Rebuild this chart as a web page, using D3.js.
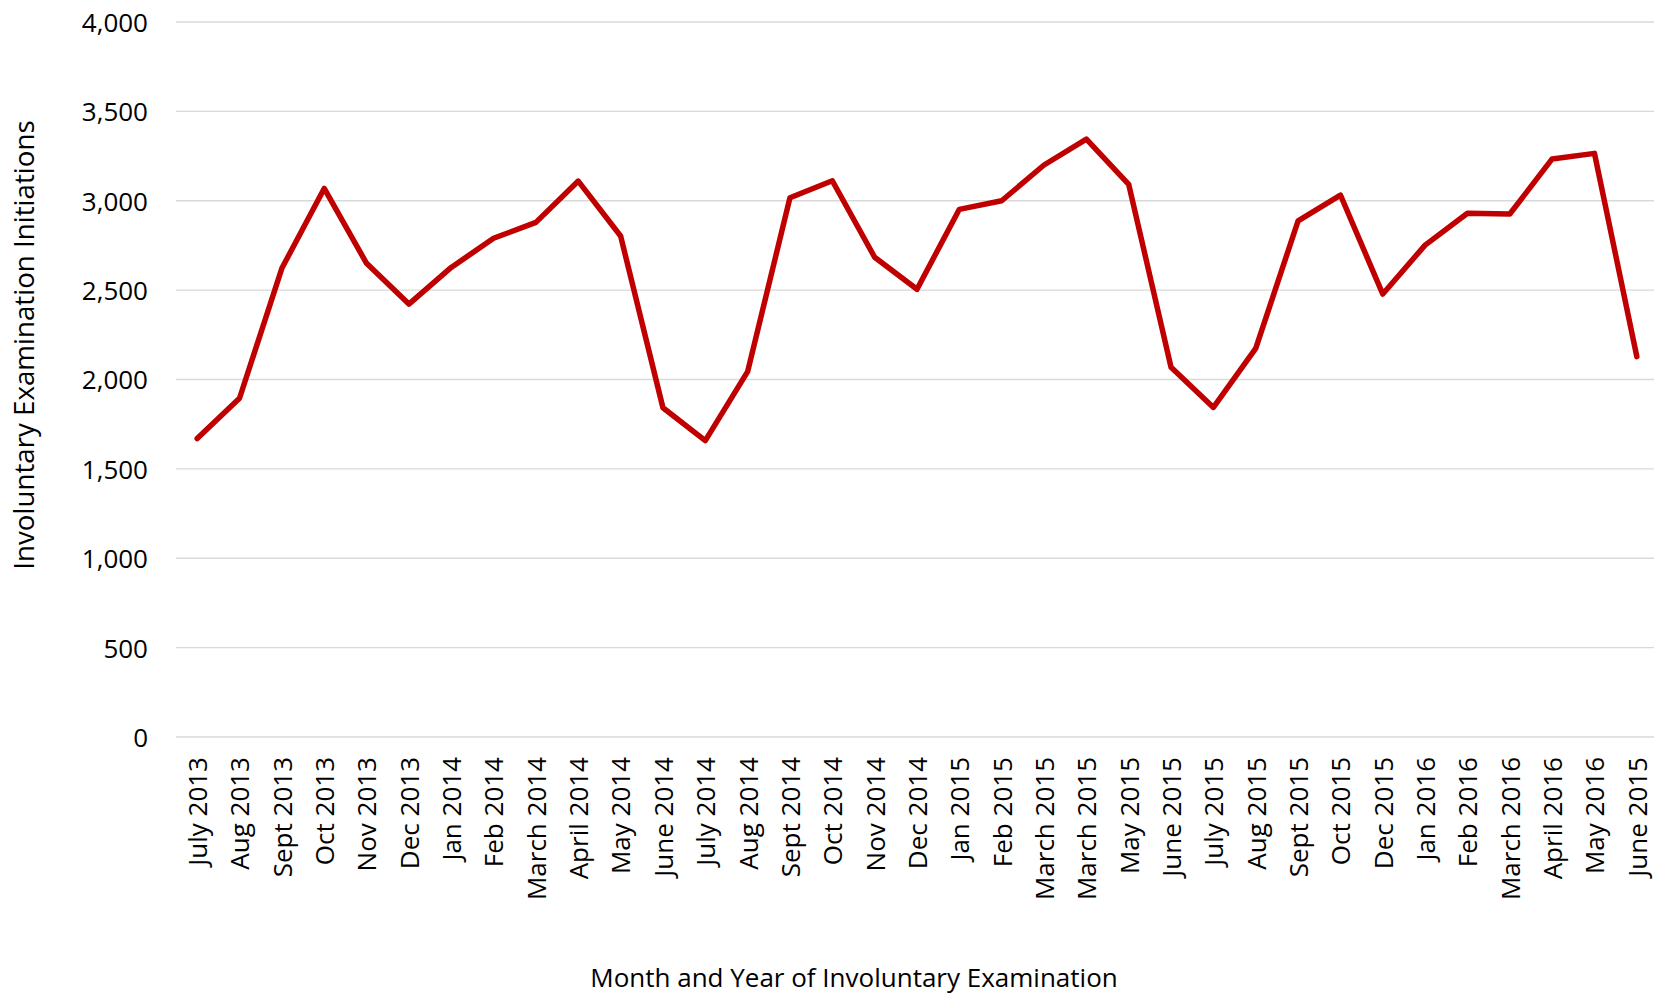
<!DOCTYPE html>
<html>
<head>
<meta charset="utf-8">
<script src="https://cdn.jsdelivr.net/npm/d3@7"></script>
<style>
  html, body { margin: 0; padding: 0; background: #ffffff; }
  svg { display: block; }
  text { font-family: "Open Sans", "Noto Sans", sans-serif; fill: #000; }
</style>
</head>
<body>
<svg id="chart" width="1654" height="995"></svg>
<script>
const categories = [
  "July 2013", "Aug 2013", "Sept 2013", "Oct 2013", "Nov 2013", "Dec 2013",
  "Jan 2014", "Feb 2014", "March 2014", "April 2014", "May 2014", "June 2014",
  "July 2014", "Aug 2014", "Sept 2014", "Oct 2014", "Nov 2014", "Dec 2014",
  "Jan 2015", "Feb 2015", "March 2015", "March 2015", "May 2015", "June 2015",
  "July 2015", "Aug 2015", "Sept 2015", "Oct 2015", "Dec 2015", "Jan 2016",
  "Feb 2016", "March 2016", "April 2016", "May 2016", "June 2015"
];
const initiations = [
  1670, 1895, 2622, 3069, 2650, 2422,
  2627, 2790, 2879, 3110, 2803, 1842,
  1658, 2044, 3017, 3112, 2684, 2505,
  2952, 3000, 3200, 3345, 3092, 2068,
  1844, 2174, 2887, 3032, 2478, 2752,
  2930, 2926, 3234, 3265, 2128
];
const yTicks = [0, 500, 1000, 1500, 2000, 2500, 3000, 3500, 4000];
const xTitle = "Month and Year of Involuntary Examination";
const yTitle = "Involuntary Examination Initiations";

const svg = d3.select("#chart");
const plotLeft = 176, plotRight = 1658, plotTop = 22, plotBottom = 737;

const x = d3.scalePoint()
  .domain(d3.range(categories.length))
  .range([plotLeft, plotRight])
  .padding(0.5);
const y = d3.scaleLinear().domain([0, 4000]).range([plotBottom, plotTop]);

// gridlines
svg.append("g")
  .selectAll("line")
  .data(yTicks)
  .join("line")
  .attr("x1", plotLeft).attr("x2", plotRight)
  .attr("y1", d => y(d)).attr("y2", d => y(d))
  .attr("stroke", "#d9d9d9")
  .attr("stroke-width", 1.4);

// y axis labels
const yAxis = d3.axisLeft(y)
  .tickValues(yTicks)
  .tickFormat(d3.format(","))
  .tickSize(0)
  .tickPadding(0);
const yg = svg.append("g").attr("transform", "translate(148,0)").call(yAxis);
yg.select(".domain").remove();
yg.selectAll("text")
  .attr("font-size", 26)
  .attr("font-family", "Open Sans")
  .attr("fill", "#000")
  .attr("dy", "0.36em");

// x axis labels
const xAxis = d3.axisBottom(x)
  .tickFormat(i => categories[i])
  .tickSize(0)
  .tickPadding(0);
const xg = svg.append("g").attr("transform", `translate(0,${plotBottom})`).call(xAxis);
xg.select(".domain").remove();
xg.selectAll("text")
  .attr("font-size", 26)
  .attr("font-family", "Open Sans")
  .attr("fill", "#000")
  .attr("text-anchor", "end")
  .attr("transform", "rotate(-90)")
  .attr("x", -20)
  .attr("y", 0)
  .attr("dy", "0.36em");

// line
const line = d3.line()
  .x((d, i) => x(i))
  .y(d => y(d));
svg.append("path")
  .datum(initiations)
  .attr("d", line)
  .attr("fill", "none")
  .attr("stroke", "#c00000")
  .attr("stroke-width", 5.5)
  .attr("stroke-linejoin", "round")
  .attr("stroke-linecap", "round");

// axis titles
svg.append("text")
  .attr("x", 854).attr("y", 977)
  .attr("text-anchor", "middle")
  .attr("dominant-baseline", "central")
  .attr("font-size", 26)
  .text(xTitle);

svg.append("text")
  .attr("transform", "translate(23,345) rotate(-90)")
  .attr("text-anchor", "middle")
  .attr("dominant-baseline", "central")
  .attr("font-size", 27.7)
  .text(yTitle);
</script>
</body>
</html>
